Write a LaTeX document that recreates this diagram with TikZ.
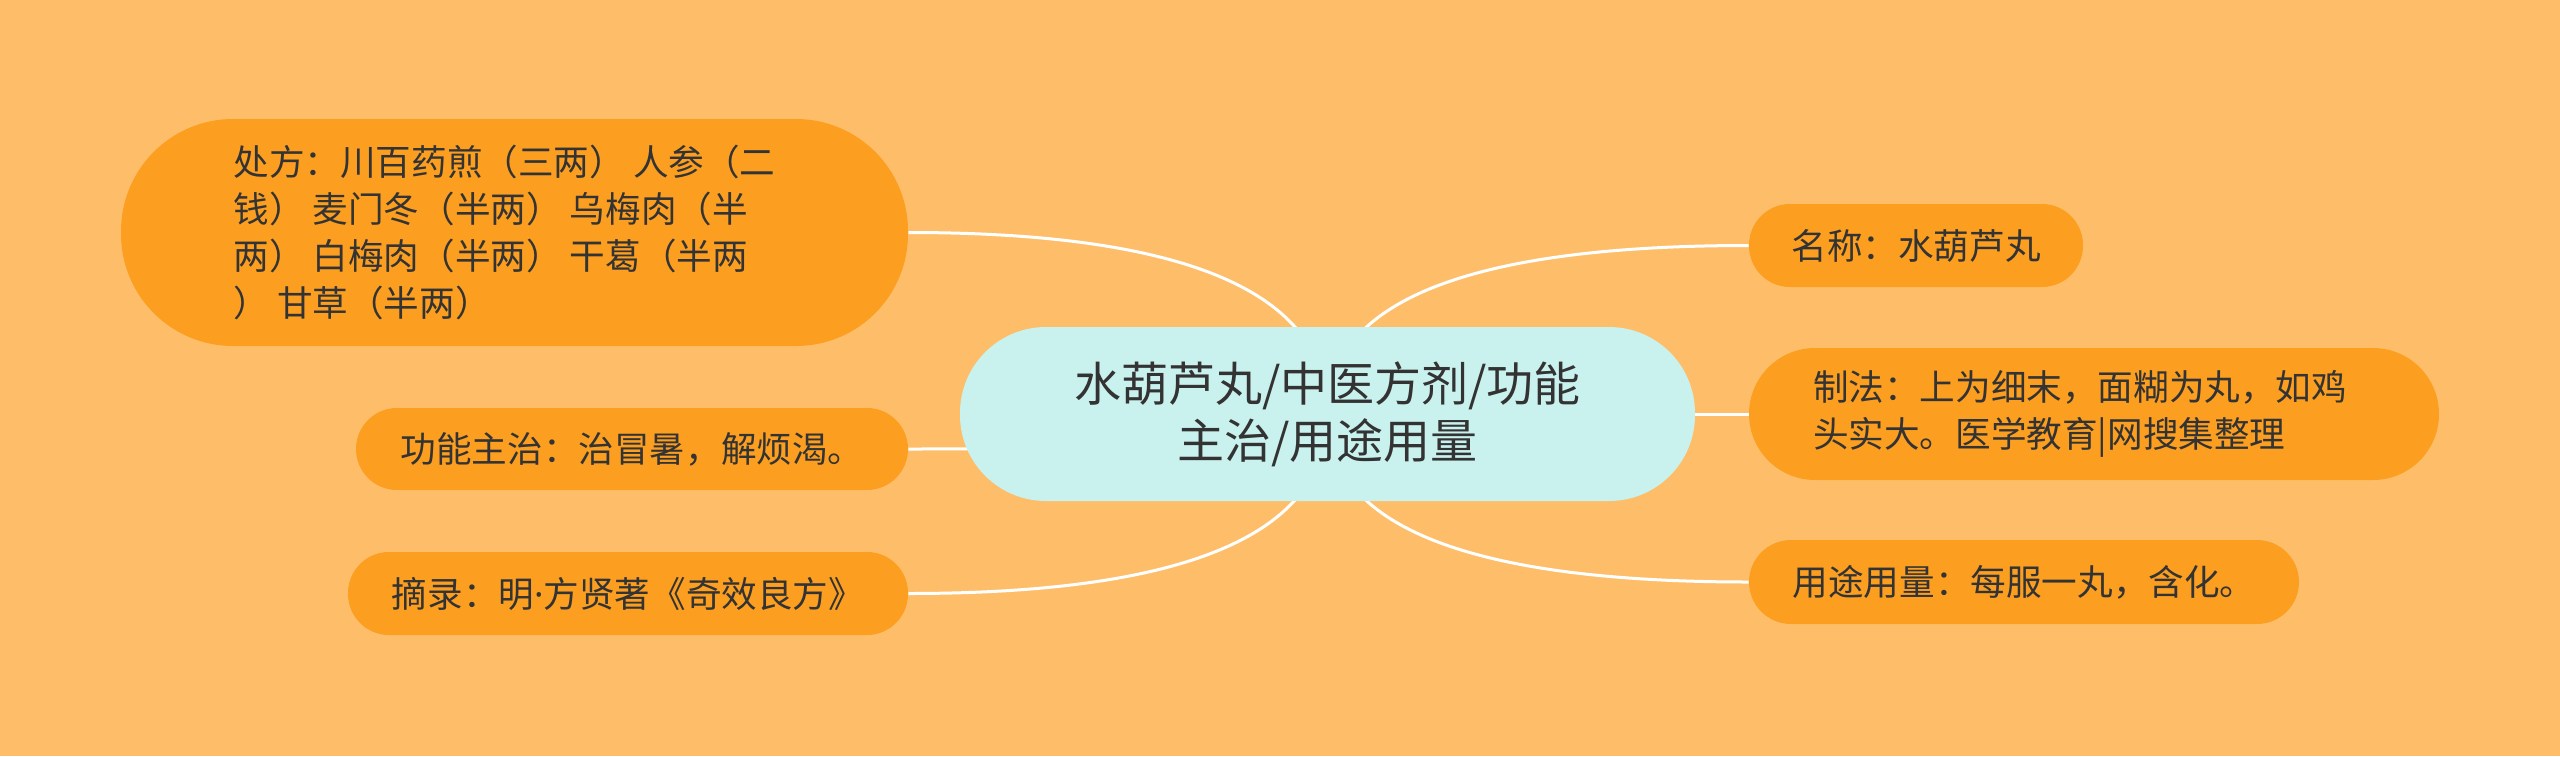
\documentclass[tikz,border=0pt]{standalone}
\usepackage{fontspec}
\setmainfont{Noto Sans CJK SC}
\newfontfamily\latinfont{Noto Sans}
\usetikzlibrary{calc}
\definecolor{bgc}{HTML}{FEBE69}
\definecolor{nodec}{HTML}{FC9F21}
\definecolor{rootc}{HTML}{C9F2EF}
\definecolor{txt}{HTML}{333333}
\pgfdeclarelayer{bg}
\pgfsetlayers{bg,main}
\tikzset{
  leaf/.style={fill=nodec, text=txt, font=\fontsize{17.8pt}{23.4pt}\selectfont, inner sep=0pt, align=left},
  root/.style={fill=rootc, text=txt, font=\fontsize{23.5pt}{28.5pt}\selectfont, inner sep=0pt, align=center},
  link/.style={draw=white, line width=1.5pt},
}
\newcommand\mmlink[2]{\draw[link] (#1) .. controls ($(#1)!0.6667!(#1 |- #2)$) and ($(#2)!0.6667!(#1 |- #2)$) .. (#2);}
\begin{document}
\begin{tikzpicture}[x=0.5pt,y=-0.5pt]
\useasboundingbox (0,0) rectangle (2560,756);
\node[root, minimum width=367.5pt, minimum height=87pt, rounded corners=43pt] (c) at (1327.5,414) {水葫芦丸/中医方剂/功能\\主治/用途用量};
\node[leaf, minimum width=393.5pt, minimum height=113.5pt, rounded corners=56pt] (p) at (514.5,232.5) {处方：川百药煎（三两） 人参（二\hspace*{10pt}\\钱） 麦门冬（半两） 乌梅肉（半\\两） 白梅肉（半两） 干葛（半两\\） 甘草（半两）};
\node[leaf, minimum width=276pt, minimum height=41pt, rounded corners=20.5pt] (g) at (632,449) {功能主治：治冒暑，解烦渴。};
\node[leaf, minimum width=280pt, minimum height=41.5pt, rounded corners=20.5pt] (z) at (628,593.5) {摘录：明{\latinfont ·}方贤著《奇效良方》};
\node[leaf, minimum width=167pt, minimum height=41.5pt, rounded corners=20.5pt] (n) at (1916,245.5) {名称：水葫芦丸};
\node[leaf, minimum width=345pt, minimum height=66pt, rounded corners=33pt] (f) at (2094,414) {制法：上为细末，面糊为丸，如鸡\hspace*{14pt}\\头实大。医学教育|网搜集整理};
\node[leaf, minimum width=275pt, minimum height=42pt, rounded corners=21pt] (y) at (2024,582) {用途用量：每服一丸，含化。};
\begin{pgfonlayer}{bg}
\fill[bgc] (0,0) rectangle (2560,756);
\mmlink{c.center}{p.east}
\mmlink{c.center}{g.east}
\mmlink{c.center}{z.east}
\mmlink{c.center}{n.west}
\mmlink{c.center}{f.west}
\mmlink{c.center}{y.west}
\end{pgfonlayer}
\end{tikzpicture}
\end{document}
